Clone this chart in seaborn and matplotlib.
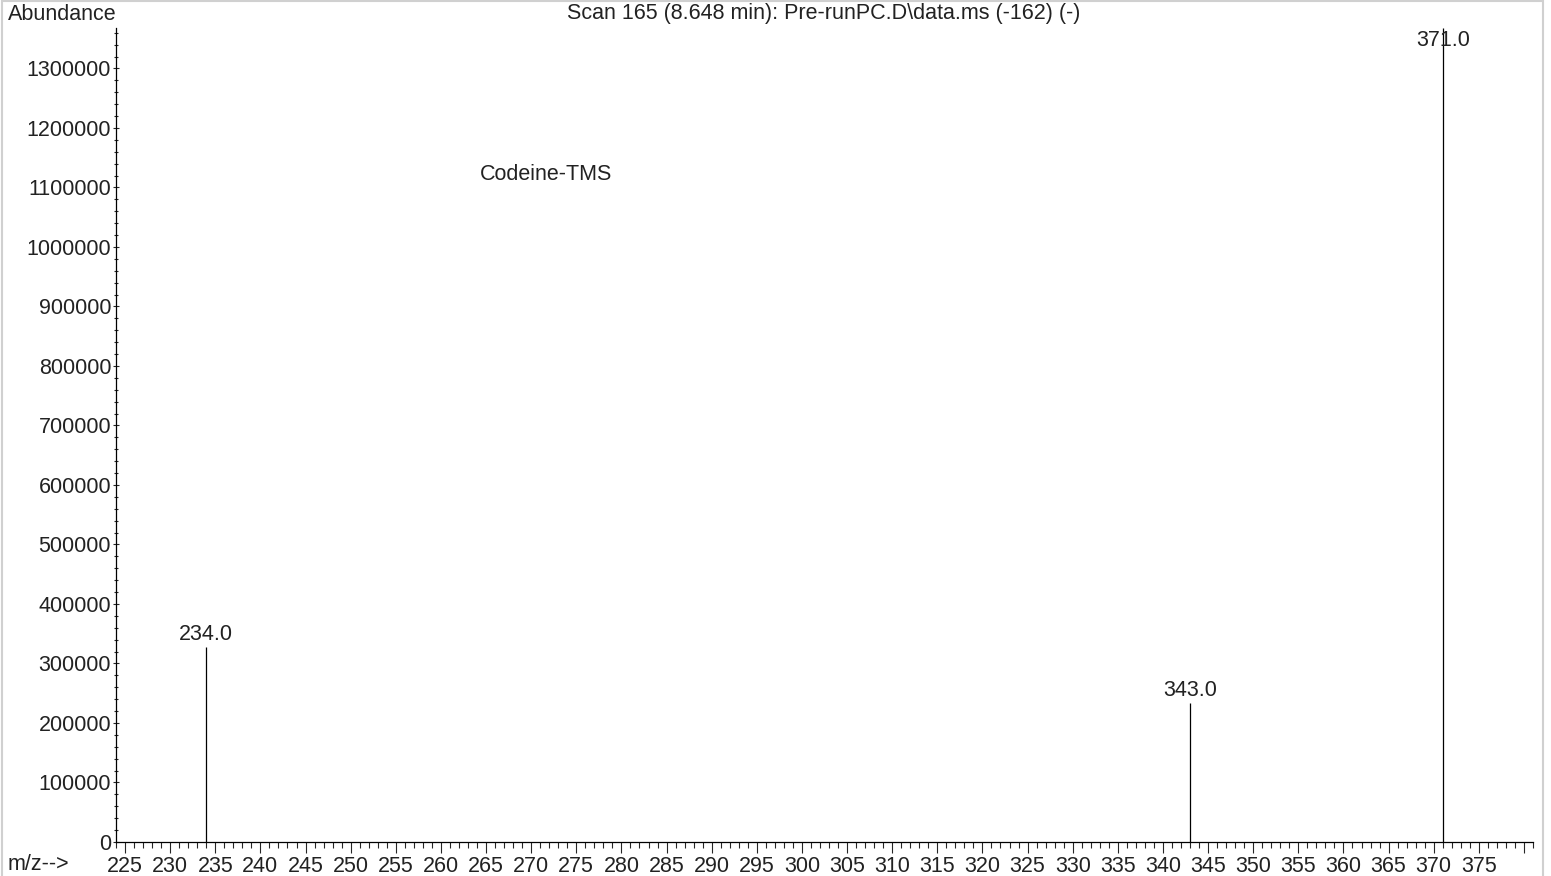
import matplotlib
matplotlib.use('Agg')
import matplotlib.pyplot as plt
import seaborn as sns
from matplotlib.ticker import MultipleLocator, FuncFormatter
from matplotlib.patches import Rectangle

# spectrum peaks (m/z, abundance)
mz = [234.0, 343.0, 371.0]
abundance = [327000, 233000, 1368000]
peak_labels = ['234.0', '343.0', '371.0']

title = 'Scan 165 (8.648 min): Pre-runPC.D\\data.ms (-162) (-)'
compound = 'Codeine-TMS'

FS = 15.5
TXT = '#222222'

sns.set_style('ticks')
plt.rcParams['font.family'] = ['Liberation Sans', 'DejaVu Sans']

fig = plt.figure(figsize=(15.51, 8.76), dpi=100)
ax = fig.add_axes([116 / 1551, 1 - 842 / 876, (1533 - 116) / 1551, (842 - 28) / 876])

ax.vlines(mz, 0, abundance, color='black', linewidth=0.9)

ymax = 1368000
ax.set_xlim(224.0, 381.0)
ax.set_ylim(0, ymax)

for x, y, lab in zip(mz, abundance, peak_labels):
    ax.annotate(lab, (x, min(y, 1325000)), xytext=(0, 2), textcoords='offset points',
                ha='center', va='bottom', fontsize=FS, color=TXT)

ax.text(264.3, 1122000, compound, fontsize=FS, color=TXT, va='center')

ax.xaxis.set_major_locator(MultipleLocator(5))
ax.xaxis.set_minor_locator(MultipleLocator(1))
ax.yaxis.set_major_locator(MultipleLocator(100000))
ax.yaxis.set_minor_locator(MultipleLocator(20000))
ax.yaxis.set_major_formatter(FuncFormatter(lambda v, p: f'{int(round(v))}'))

xt = list(range(225, 381, 5))
ax.set_xticks(xt)
ax.set_xticklabels([str(t) if t <= 375 else '' for t in xt])

ax.tick_params(axis='x', which='major', length=8, width=0.8, direction='out', pad=2,
               labelsize=FS, labelcolor=TXT)
ax.tick_params(axis='x', which='minor', length=4.5, width=0.8, direction='out')
ax.tick_params(axis='y', which='major', length=5, width=0.8, direction='inout', pad=1,
               labelsize=FS, labelcolor=TXT)
ax.tick_params(axis='y', which='minor', length=3, width=0.8, direction='inout')

sns.despine(ax=ax)
for s in ['left', 'bottom']:
    ax.spines[s].set_linewidth(0.9)
    ax.spines[s].set_color('black')

fig.text(8 / 1551, 1 - 14 / 876, 'Abundance', fontsize=FS, color=TXT, va='center', ha='left')
fig.text(8 / 1551, 1 - 864 / 876, 'm/z-->', fontsize=FS, color=TXT, va='center', ha='left')
fig.text(824 / 1551, 1 - 14 / 876, title, fontsize=FS, color=TXT, va='center', ha='center')

fig.patches.append(Rectangle((2 / 1551, -0.01), (1543 - 2) / 1551, 1 - 1.5 / 876 + 0.01,
                             transform=fig.transFigure, fill=False,
                             edgecolor='#d0d0d0', linewidth=1.5))

fig.savefig('out.png', dpi=100)
